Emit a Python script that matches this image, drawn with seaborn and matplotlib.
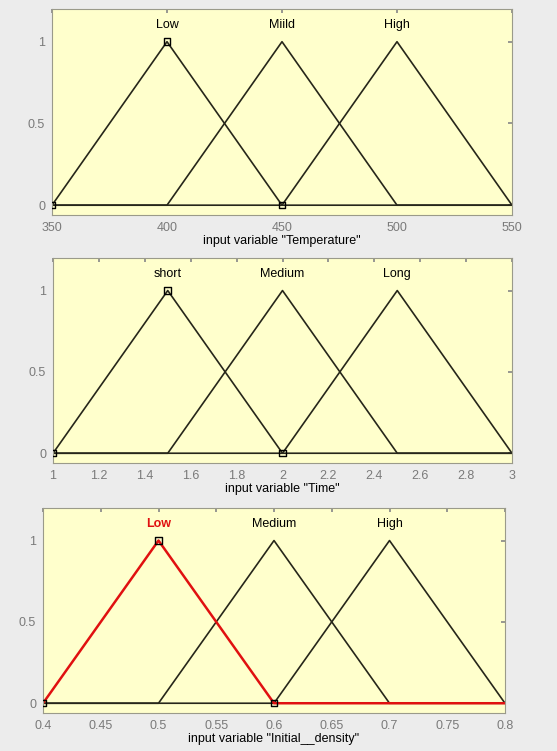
import matplotlib
matplotlib.use("Agg")
import matplotlib.pyplot as plt
import seaborn as sns
import pandas as pd

# ---- data: triangular membership functions (a, b, c) ----
temp_range = [350, 550]
temp_names = ["Low", "Miild", "High"]
temp_params = [[350, 400, 450], [400, 450, 500], [450, 500, 550]]
temp_ticks = [350, 400, 450, 500, 550]

time_range = [1, 3]
time_names = ["short", "Medium", "Long"]
time_params = [[1, 1.5, 2], [1.5, 2, 2.5], [2, 2.5, 3]]
time_ticks = [1, 1.2, 1.4, 1.6, 1.8, 2, 2.2, 2.4, 2.6, 2.8, 3]

dens_range = [0.4, 0.8]
dens_names = ["Low", "Medium", "High"]
dens_params = [[0.4, 0.5, 0.6], [0.5, 0.6, 0.7], [0.6, 0.7, 0.8]]
dens_ticks = [0.4, 0.45, 0.5, 0.55, 0.6, 0.65, 0.7, 0.75, 0.8]

sns.set_theme(style="white")
plt.rcParams['font.family'] = ['Liberation Sans', 'DejaVu Sans']

fig = plt.figure(figsize=(5.57, 7.51), dpi=100)
fig.patch.set_facecolor('#ececec')

# (range, names, params, ticks, xlabel, axes position, selected MF)
panels = [
    (temp_range, temp_names, temp_params, temp_ticks, 'input variable "Temperature"',
     [52/557, 1 - 215/751, 460/557, 206/751], None),
    (time_range, time_names, time_params, time_ticks, 'input variable "Time"',
     [53/557, 1 - 463/751, 459/557, 205/751], None),
    (dens_range, dens_names, dens_params, dens_ticks, 'input variable "Initial__density"',
     [43/557, 1 - 713/751, 462/557, 205/751], 0),
]

line_col = '#26261a'

for rng, names, params, ticks, xlabel, pos, selected in panels:
    ax = fig.add_axes(pos)
    ax.set_facecolor('#ffffcc')
    rows = []
    for name, (a, b, c) in zip(names, params):
        for x, y in zip([rng[0], a, b, c, rng[1]], [0, 0, 1, 0, 0]):
            rows.append({"mf": name, "x": x, "y": y})
    df = pd.DataFrame(rows)

    for i, name in enumerate(names):
        if i == selected:
            continue
        sns.lineplot(data=df[df.mf == name], x="x", y="y", sort=False, ax=ax,
                     color=line_col, linewidth=1.2, estimator=None)
    sel = selected if selected is not None else 0
    if selected is not None:
        sns.lineplot(data=df[df.mf == names[sel]], x="x", y="y", sort=False, ax=ax,
                     color='#e01010', linewidth=1.8, estimator=None)

    # square markers on the current MF vertices
    a, b, c = params[sel]
    sns.scatterplot(x=[a, b, c], y=[0, 1, 0], ax=ax, marker='s', s=22,
                    facecolor='none', edgecolor='black', linewidth=1.0, zorder=5)

    # MF names above the peaks
    for i, (name, (a, b, c)) in enumerate(zip(names, params)):
        if i == selected:
            ax.text(b, 1.1, name, ha='center', va='center', fontsize=9,
                    color='#e01010', fontweight='bold')
        else:
            ax.text(b, 1.1, name, ha='center', va='center', fontsize=9, color='black')

    ax.set_xlim(rng)
    ax.set_ylim(-0.06, 1.2)
    ax.set_xticks(ticks)
    ax.set_xticklabels([f"{t:g}" for t in ticks])
    ax.set_yticks([0, 0.5, 1])
    ax.set_yticklabels(["0", "0.5", "1"])
    ax.tick_params(direction='in', length=3, top=True, right=True, labelsize=9,
                   labelcolor='#7a7a7a', color='#8a8a8a', pad=5)
    ax.set_xlabel(xlabel, fontsize=9, labelpad=1, color='black')
    ax.set_ylabel("")
    for sp in ax.spines.values():
        sp.set_color('#9a9a8a')
        sp.set_linewidth(0.8)

fig.savefig("out.png", dpi=100, facecolor=fig.get_facecolor())
